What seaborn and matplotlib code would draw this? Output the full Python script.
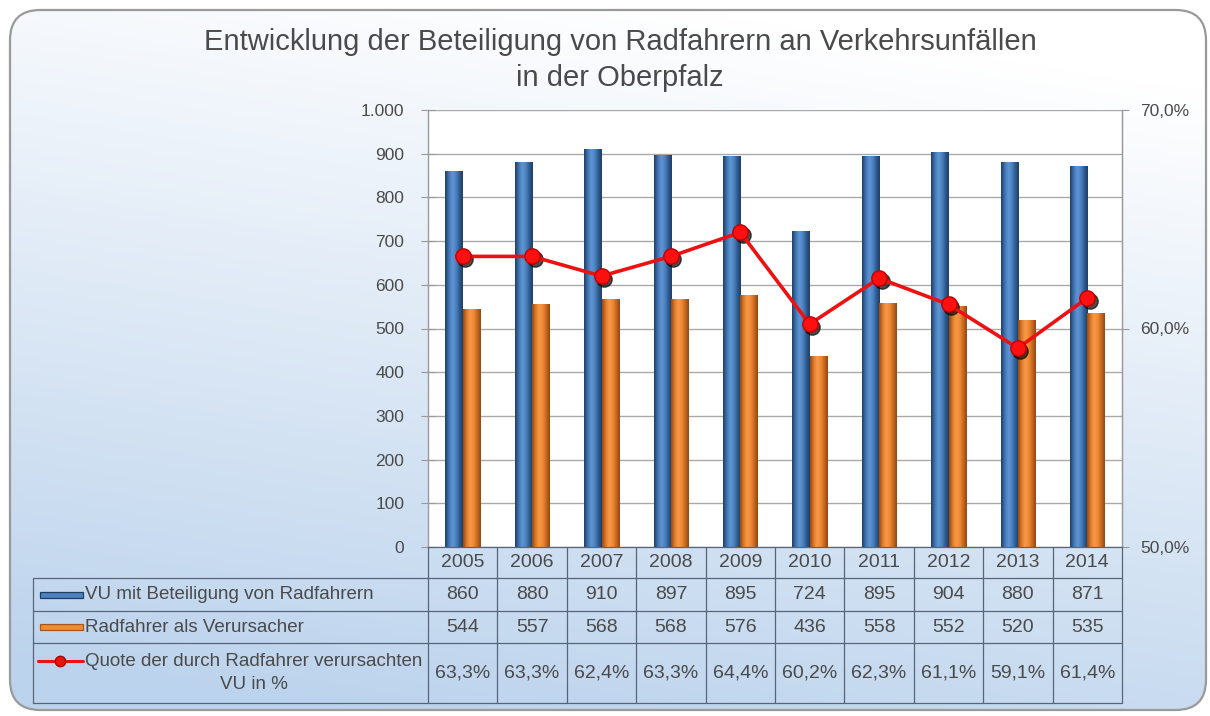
import numpy as np
import pandas as pd
import matplotlib
matplotlib.use("Agg")
import matplotlib.pyplot as plt
from matplotlib.patches import FancyBboxPatch, Rectangle
from matplotlib.lines import Line2D
from matplotlib.transforms import blended_transform_factory, offset_copy
import seaborn as sns

# ---- data -------------------------------------------------------------
years = ["2005", "2006", "2007", "2008", "2009", "2010", "2011", "2012", "2013", "2014"]
vu_radfahrer = [860, 880, 910, 897, 895, 724, 895, 904, 880, 871]
verursacher = [544, 557, 568, 568, 576, 436, 558, 552, 520, 535]
quote = [63.3, 63.3, 62.4, 63.3, 64.4, 60.2, 62.3, 61.1, 59.1, 61.4]

series_names = ["VU mit Beteiligung von Radfahrern", "Radfahrer als Verursacher"]
quote_name = "Quote der durch Radfahrer verursachten\nVU in %"
title = "Entwicklung der Beteiligung von Radfahrern an Verkehrsunfällen\nin der Oberpfalz"

left_ticks = list(range(0, 1001, 100))
right_ticks = [50, 60, 70]

# ---- style ------------------------------------------------------------
sns.set_style("white")
plt.rcParams["font.family"] = ["Liberation Sans", "DejaVu Sans"]
TXT = "#4a4a4a"
BLUE = "#4f81bd"
ORANGE = "#f28a32"
RED = "#ee1111"
GRID = "#a9a9a9"
TABLE_LINE = "#56657a"

W, H = 1210, 716
fig = plt.figure(figsize=(W / 100, H / 100), dpi=100)


def fx(px):
    return px / W


def fy(py):
    return 1 - py / H


# background gradient (white at the top -> light blue towards the bottom left)
bg = fig.add_axes([0, 0, 1, 1], zorder=-10)
bg.set_axis_off()
gx, gy = np.meshgrid(np.linspace(0, 1, 300), np.linspace(0, 1, 200))
t = np.clip(0.95 * gy + 0.25 * (1 - gx) - 0.12, 0, 1)
top = np.array([1.0, 1.0, 1.0])
bot = np.array([0.74, 0.83, 0.93])
img = top[None, None, :] * (1 - t[..., None]) + bot[None, None, :] * t[..., None]
bg.imshow(img, extent=[0, 1, 0, 1], aspect="auto", origin="upper")
bg.set_xlim(0, 1)
bg.set_ylim(0, 1)
frame = FancyBboxPatch((fx(10), fy(710)), fx(1196), (710 - 10) / H,
                       boxstyle="round,pad=0,rounding_size=0.025",
                       transform=bg.transAxes, facecolor="none",
                       edgecolor="#9a9a9a", linewidth=1.6, zorder=5,
                       mutation_aspect=W / H)
bg.add_patch(frame)
bg.add_patch(Rectangle((0, 0), 1, 1, transform=bg.transAxes, facecolor="white",
                       edgecolor="none", zorder=1))
bg.images[0].set_zorder(2)
bg.images[0].set_clip_path(frame)

# ---- main axes ----------------------------------------------------------
ax_l, ax_r, ax_t, ax_b = 428, 1122, 110, 547
ax = fig.add_axes([fx(ax_l), fy(ax_b), fx(ax_r) - fx(ax_l), (ax_b - ax_t) / H])
ax.set_facecolor("white")

df = pd.DataFrame({
    "Jahr": years * 2,
    "Wert": vu_radfahrer + verursacher,
    "Serie": [series_names[0]] * len(years) + [series_names[1]] * len(years),
})
sns.barplot(data=df, x="Jahr", y="Wert", hue="Serie", hue_order=series_names,
            palette=[BLUE, ORANGE], width=0.5, gap=0, saturation=1,
            edgecolor="none", legend=False, ax=ax, zorder=3)

# cylinder-like shading on the bars
shade_cols = {
    BLUE: ["#1f3d63", "#3f72b0", "#5f95d3", "#4f85c4", "#2f5d92", "#1f3d63"],
    ORANGE: ["#8f4812", "#e07a28", "#f79a4a", "#f08a36", "#c8681f", "#8f4812"],
}
for patch in list(ax.patches):
    x0, y0 = patch.get_x(), patch.get_y()
    w, h = patch.get_width(), patch.get_height()
    if h <= 0:
        continue
    fc = matplotlib.colors.to_hex(patch.get_facecolor())
    key = BLUE if fc.lower() == BLUE else ORANGE
    cmap = matplotlib.colors.LinearSegmentedColormap.from_list("cyl", shade_cols[key])
    grad = np.linspace(0, 1, 64)[None, :]
    im = ax.imshow(grad, cmap=cmap, extent=[x0, x0 + w, y0, y0 + h],
                   aspect="auto", zorder=3.5, interpolation="bicubic")
    im.set_clip_path(patch)

ax.set_xlim(-0.5, len(years) - 0.5)
ax.set_ylim(0, 1000)
ax.set_yticks(left_ticks)
ax.set_yticklabels([f"{v:,}".replace(",", ".") for v in left_ticks],
                   color=TXT, fontsize=12.5)
ax.set_xticks([])
ax.set_xlabel("")
ax.set_ylabel("")
ax.yaxis.grid(True, color=GRID, linewidth=1.0, zorder=0)
ax.set_axisbelow(True)
ax.tick_params(axis="y", direction="inout", length=10, width=0.8,
               color="#999999", pad=12)
for side in ["top", "bottom"]:
    ax.spines[side].set_visible(False)
for side in ["left", "right"]:
    ax.spines[side].set_color("#9a9a9a")
    ax.spines[side].set_linewidth(1.0)

# ---- percentage line ------------------------------------------------------
ax2 = ax.twinx()
xpos = np.arange(len(years))
# dark shadow under the markers
shadow_tr = offset_copy(ax2.transData, fig=fig, x=2.5, y=-3, units="dots")
ax2.plot(xpos, quote, linestyle="none", marker="o", markersize=11,
         color="#111111", alpha=0.75, transform=shadow_tr, zorder=5)
sns.lineplot(x=xpos, y=quote, ax=ax2, color=RED, linewidth=2.6,
             marker="o", markersize=11, markerfacecolor="#ff1010",
             markeredgecolor="#c00000", markeredgewidth=1.0, zorder=6)
ax2.set_ylim(50, 70)
ax2.set_yticks(right_ticks)
ax2.set_yticklabels([f"{v:.1f}%".replace(".", ",") for v in right_ticks],
                    color=TXT, fontsize=12.5)
ax2.tick_params(axis="y", length=5, width=0.8, color="#999999", pad=8)
ax2.set_xlim(-0.5, len(years) - 0.5)
ax2.set_ylabel("")
for side in ["top", "bottom", "left"]:
    ax2.spines[side].set_visible(False)
ax2.spines["right"].set_color("#9a9a9a")

# ---- title --------------------------------------------------------------
fig.text(fx(620), fy(60), title, ha="center", va="center", fontsize=21,
         color=TXT, linespacing=1.4)

# ---- data table below the plot -------------------------------------------
tr_col = blended_transform_factory(ax.transData, fig.transFigure)
tf = fig.transFigure
row_y = [547, 578, 611, 643, 703]
tbl_left = 33
n = len(years)
lkw = dict(color=TABLE_LINE, linewidth=0.9, zorder=4)

fig.add_artist(Line2D([fx(ax_l), fx(ax_r)], [fy(row_y[0])] * 2, transform=tf, **lkw))
for py in row_y[1:]:
    fig.add_artist(Line2D([fx(tbl_left), fx(ax_r)], [fy(py)] * 2, transform=tf, **lkw))
fig.add_artist(Line2D([fx(tbl_left)] * 2, [fy(row_y[1]), fy(row_y[-1])], transform=tf, **lkw))
for i in range(n + 1):
    fig.add_artist(Line2D([i - 0.5] * 2, [fy(row_y[0]), fy(row_y[-1])], transform=tr_col, **lkw))

cell_kw = dict(ha="center", va="center", fontsize=14, color=TXT)
rows = [
    years,
    [str(v) for v in vu_radfahrer],
    [str(v) for v in verursacher],
    [f"{v:.1f}%".replace(".", ",") for v in quote],
]
for r, vals in enumerate(rows):
    yc = fy((row_y[r] + row_y[r + 1]) / 2)
    for i, s in enumerate(vals):
        fig.text(i, yc, s, transform=tr_col, **cell_kw)

# row headers with legend keys
lab_kw = dict(va="center", fontsize=13.5, color=TXT)
yc1 = fy((row_y[1] + row_y[2]) / 2)
yc2 = fy((row_y[2] + row_y[3]) / 2)
yc3 = fy((row_y[3] + row_y[4]) / 2)
key_h = 6 / H
fig.add_artist(Rectangle((fx(40), yc1 - key_h / 2), fx(43), key_h, transform=tf,
                         facecolor=BLUE, edgecolor="#1f3f66", linewidth=0.9))
fig.add_artist(Rectangle((fx(40), yc2 - key_h / 2), fx(43), key_h, transform=tf,
                         facecolor=ORANGE, edgecolor="#a8561a", linewidth=0.9))
key_y3 = yc3 + 12 / H
fig.add_artist(Line2D([fx(38), fx(83)], [key_y3] * 2, transform=tf, color=RED,
                      linewidth=2.2))
fig.add_artist(Line2D([fx(60)], [key_y3], transform=tf, color=RED, marker="o",
                      markersize=7.5, markeredgecolor="#b00000", linestyle="none"))
fig.text(fx(85), yc1, series_names[0], ha="left", **lab_kw)
fig.text(fx(85), yc2, series_names[1], ha="left", **lab_kw)
fig.text(fx(254), yc3, quote_name, ha="center", linespacing=1.45, **lab_kw)

fig.savefig("out.png", dpi=100)
